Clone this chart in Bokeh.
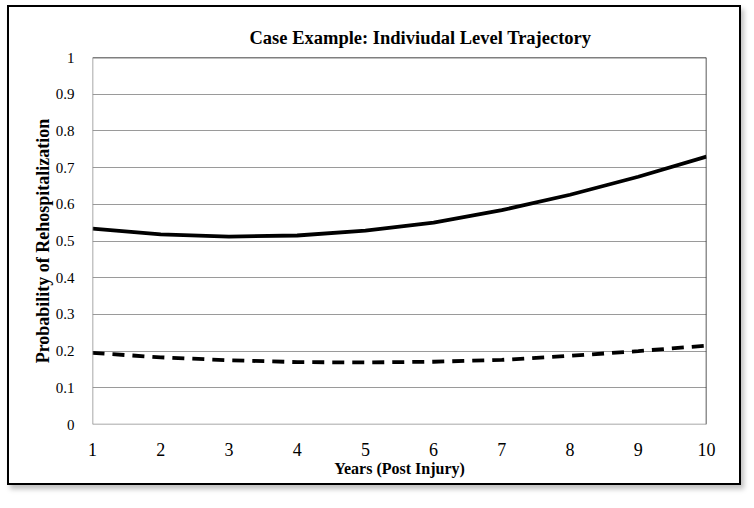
from bokeh.plotting import figure
from bokeh.models import ColumnDataSource, Span, FixedTicker
from bokeh.embed import file_html
from bokeh.resources import INLINE

years = [1, 2, 3, 4, 5, 6, 7, 8, 9, 10]
solid_prob = [0.534, 0.518, 0.512, 0.515, 0.528, 0.550, 0.584, 0.626, 0.675, 0.730]
dashed_prob = [0.195, 0.183, 0.175, 0.170, 0.169, 0.171, 0.176, 0.187, 0.200, 0.215]
y_ticks = [0, 0.1, 0.2, 0.3, 0.4, 0.5, 0.6, 0.7, 0.8, 0.9, 1]
y_tick_labels = {0: "0", 0.1: "0.1", 0.2: "0.2", 0.3: "0.3", 0.4: "0.4", 0.5: "0.5",
                 0.6: "0.6", 0.7: "0.7", 0.8: "0.8", 0.9: "0.9", 1: "1"}
title_text = "Case Example: Indiviudal Level Trajectory"
x_label = "Years (Post Injury)"
y_label = "Probability of Rehospitalization"

FONT = "Liberation Serif"

p = figure(width=734, height=480, output_backend="svg", toolbar_location=None,
           x_range=(1, 10), y_range=(0, 1),
           min_border_left=83, min_border_right=37, min_border_top=50, min_border_bottom=63)
p.styles = {"border": "2px solid black", "box-shadow": "3px 4px 5px rgba(0,0,0,0.25)",
            "margin-left": "7px", "margin-top": "5px"}
p.outline_line_color = None
p.background_fill_color = "white"
p.border_fill_color = "white"

p.title.text = title_text
p.title.align = "left"
p.title.offset = 157
p.title.text_font = FONT
p.title.text_font_style = "bold"
p.title.text_font_size = "18.5px"
p.title.text_color = "black"
p.title.standoff = 20

src = ColumnDataSource(dict(x=years, solid=solid_prob, dashed=dashed_prob))
p.line("x", "solid", source=src, line_color="black", line_width=3.8)
p.line("x", "dashed", source=src, line_color="black", line_width=3.8, line_dash="12 8")

p.xaxis.ticker = FixedTicker(ticks=years)
p.yaxis.ticker = FixedTicker(ticks=y_ticks)
p.yaxis.major_label_overrides = y_tick_labels
for ax in (p.xaxis, p.yaxis):
    ax.axis_line_color = None
    ax.major_tick_line_color = None
    ax.minor_tick_line_color = None
    ax.major_label_text_font = FONT
    ax.major_label_text_color = "black"
    ax.axis_label_text_font = FONT
    ax.axis_label_text_font_style = "bold"
    ax.axis_label_text_color = "black"
p.xaxis.major_label_text_font_size = "18px"
p.yaxis.major_label_text_font_size = "15px"
p.xaxis.axis_label_text_font_size = "16px"
p.yaxis.axis_label_text_font_size = "18px"
p.xaxis.major_label_standoff = 12
p.yaxis.major_label_standoff = 12
p.xaxis.axis_label = x_label
p.yaxis.axis_label = y_label
p.xaxis.axis_label_standoff = 1
p.yaxis.axis_label_standoff = 0

p.xgrid.grid_line_color = None
p.ygrid.grid_line_color = "#9a9a9a"
p.ygrid.grid_line_width = 1.2

p.add_layout(Span(location=1, dimension="width", line_color="black", line_width=1.5))
p.add_layout(Span(location=10, dimension="height", line_color="#222222", line_width=1.5))
p.add_layout(Span(location=1, dimension="height", line_color="#8a8a8a", line_width=1.5))
p.add_layout(Span(location=0, dimension="width", line_color="#8a8a8a", line_width=1.5))

open("out.html", "w").write(file_html(p, INLINE))
